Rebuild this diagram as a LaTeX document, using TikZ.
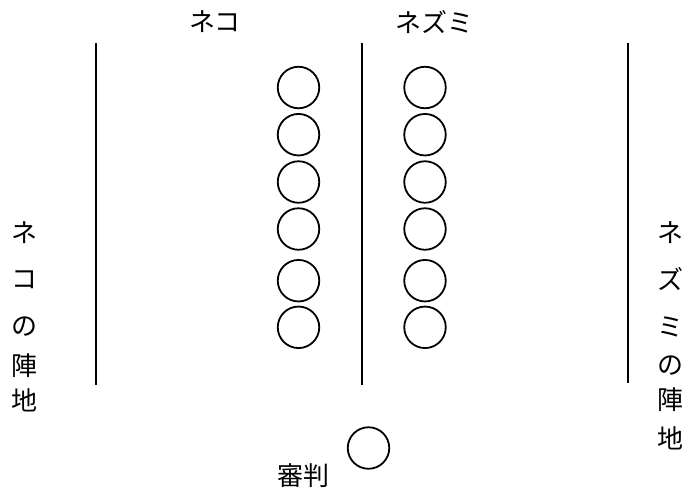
\documentclass[tikz,border=0pt]{standalone}
\usepackage{fontspec}
\newfontfamily\jp{Noto Sans CJK JP}
\begin{document}
\begin{tikzpicture}[x=1pt,y=-1pt,
  token/.style={circle,draw,line width=1.8pt,minimum size=41.5pt,inner sep=0pt},
  wall/.style={line width=2pt},
  lbl/.style={font=\jp\fontsize{26}{26}\selectfont,inner sep=0pt}]
\useasboundingbox (0,0) rectangle (695,491);
% walls
\coordinate (l1) at (95.5,43); \coordinate (l2) at (95.5,385);
\coordinate (m1) at (361.5,43); \coordinate (m2) at (361.5,385);
\coordinate (r1) at (627.5,43); \coordinate (r2) at (627.5,383);
\draw[wall] (l1) -- (l2);
\draw[wall] (m1) -- (m2);
\draw[wall] (r1) -- (r2);
% tokens
\foreach \i/\y in {1/87.5,2/134.7,3/182,4/229,5/280.7,6/327.3}{
  \node[token] (c\i) at (298.5,\y) {};
  \node[token] (n\i) at (425,\y) {};
}
\node[token] (judge) at (368.5,448) {};
% labels
\node[lbl] (cat) at (215,22) {ネコ};
\node[lbl] (mouse) at (434,22) {ネズミ};
\node[lbl] (judgelbl) at (303,476) {審判};
% left vertical
\node[lbl] (a1) at (25,233) {ネ};
\node[lbl] (a2) at (25,280) {コ};
\node[lbl] (a3) at (25,327) {の};
\node[lbl] (a4) at (25,366) {陣};
\node[lbl] (a5) at (25,400) {地};
% right vertical
\node[lbl] (b1) at (670,233) {ネ};
\node[lbl] (b2) at (670,279) {ズ};
\node[lbl] (b3) at (670,327) {ミ};
\node[lbl] (b4) at (670,366) {の};
\node[lbl] (b5) at (670,400) {陣};
\node[lbl] (b6) at (670,438) {地};
\end{tikzpicture}
\end{document}
